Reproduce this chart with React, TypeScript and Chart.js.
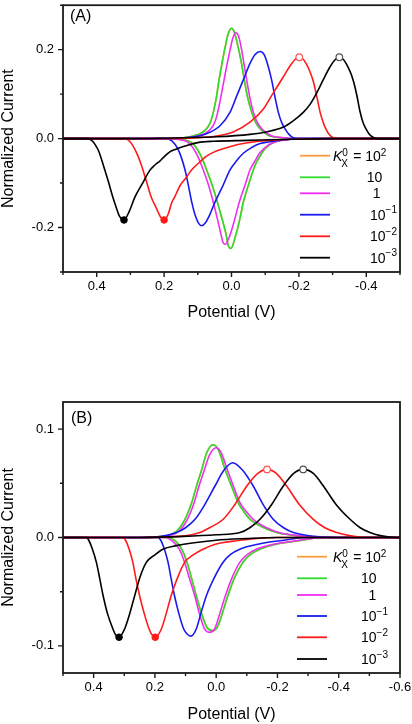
import React, { useEffect, useRef } from "react";
import { Chart, registerables } from "chart.js";

Chart.register(...registerables);

type Pair = [number, number];

// ---------------- shared series info ----------------
const seriesColors = ["#FF9B3D", "#2EDC2E", "#F02EF0", "#1A1AF0", "#FF1A1A", "#000000"];
const legendBase = ["10", "10", "1", "10", "10", "10"];
const legendExp = ["2", "", "", "\u22121", "\u22122", "\u22123"];

// ---------------- Panel A data (potential V, normalized current) ----------------
const greenA_fwd: Pair[] = [[0.5,0],[0.2,0],[0.143,0.002],[0.113,0.006],[0.09,0.012],[0.074,0.022],[0.062,0.038],[0.054,0.059],[0.045,0.092],[0.037,0.132],[0.028,0.17],[0.019,0.205],[0.01,0.235],[0.0,0.248],[-0.008,0.24],[-0.02,0.205],[-0.03,0.168],[-0.038,0.132],[-0.048,0.092],[-0.06,0.059],[-0.072,0.036],[-0.085,0.022],[-0.1,0.012],[-0.114,0.006],[-0.153,0.002],[-0.2,0],[-0.5,0]];
const greenA_rev: Pair[] = [[-0.5,0],[-0.2,0],[-0.15,-0.003],[-0.119,-0.011],[-0.1,-0.022],[-0.09,-0.033],[-0.075,-0.052],[-0.065,-0.07],[-0.05,-0.105],[-0.035,-0.143],[-0.025,-0.18],[-0.013,-0.216],[0.002,-0.247],[0.01,-0.24],[0.016,-0.216],[0.03,-0.175],[0.042,-0.143],[0.055,-0.11],[0.074,-0.07],[0.09,-0.04],[0.105,-0.02],[0.12,-0.008],[0.14,-0.003],[0.16,-0.001],[0.2,0],[0.5,0]];
const magentaA_fwd: Pair[] = [[0.5,0],[0.2,0],[0.13,0.002],[0.1,0.006],[0.077,0.012],[0.061,0.022],[0.049,0.038],[0.041,0.059],[0.032,0.092],[0.022,0.132],[0.013,0.168],[0.004,0.2],[-0.004,0.226],[-0.013,0.238],[-0.022,0.228],[-0.03,0.2],[-0.037,0.168],[-0.045,0.132],[-0.055,0.09],[-0.065,0.059],[-0.077,0.036],[-0.09,0.022],[-0.105,0.012],[-0.12,0.006],[-0.16,0.002],[-0.2,0],[-0.5,0]];
const magentaA_rev: Pair[] = [[-0.5,0],[-0.2,0],[-0.16,-0.003],[-0.12,-0.01],[-0.1,-0.02],[-0.083,-0.033],[-0.07,-0.05],[-0.055,-0.07],[-0.04,-0.105],[-0.023,-0.143],[-0.01,-0.18],[0.004,-0.216],[0.019,-0.238],[0.026,-0.232],[0.031,-0.216],[0.042,-0.18],[0.054,-0.143],[0.068,-0.105],[0.084,-0.07],[0.1,-0.04],[0.115,-0.02],[0.13,-0.008],[0.15,-0.003],[0.175,0],[0.5,0]];
const blueA_fwd: Pair[] = [[0.5,0],[0.2,0],[0.12,0.003],[0.074,0.011],[0.034,0.029],[0.0045,0.059],[-0.015,0.095],[-0.035,0.132],[-0.055,0.169],[-0.07,0.189],[-0.085,0.196],[-0.097,0.189],[-0.108,0.165],[-0.119,0.132],[-0.13,0.09],[-0.139,0.059],[-0.149,0.036],[-0.159,0.022],[-0.17,0.01],[-0.183,0.002],[-0.2,0],[-0.5,0]];
const blueA_rev: Pair[] = [[-0.5,0],[-0.2,0],[-0.15,-0.003],[-0.113,-0.007],[-0.085,-0.011],[-0.06,-0.02],[-0.035,-0.033],[-0.015,-0.05],[0.004,-0.07],[0.025,-0.105],[0.049,-0.143],[0.065,-0.172],[0.078,-0.19],[0.088,-0.196],[0.098,-0.19],[0.108,-0.172],[0.118,-0.143],[0.128,-0.105],[0.138,-0.07],[0.15,-0.04],[0.16,-0.022],[0.177,-0.005],[0.195,0],[0.5,0]];
const redA_fwd: Pair[] = [[0.5,0],[0.2,0],[0.1,0.002],[0.044,0.006],[-0.005,0.015],[-0.055,0.037],[-0.094,0.066],[-0.124,0.103],[-0.154,0.139],[-0.175,0.165],[-0.19,0.179],[-0.201,0.183],[-0.212,0.179],[-0.222,0.168],[-0.232,0.152],[-0.243,0.128],[-0.253,0.095],[-0.263,0.059],[-0.272,0.037],[-0.28,0.022],[-0.29,0.009],[-0.302,0.002],[-0.32,0],[-0.5,0]];
const redA_rev: Pair[] = [[-0.5,0],[-0.3,0],[-0.2,-0.001],[-0.1,-0.005],[-0.035,-0.011],[0.0,-0.017],[0.03,-0.024],[0.054,-0.031],[0.075,-0.04],[0.093,-0.052],[0.118,-0.07],[0.135,-0.088],[0.153,-0.106],[0.169,-0.132],[0.177,-0.143],[0.188,-0.17],[0.2,-0.183],[0.21,-0.177],[0.222,-0.158],[0.238,-0.132],[0.253,-0.095],[0.268,-0.058],[0.283,-0.03],[0.295,-0.013],[0.307,-0.003],[0.32,0],[0.5,0]];
const blackA_fwd: Pair[] = [[0.5,0],[0.3,0],[0.143,0.002],[0.044,0.004],[-0.055,0.0095],[-0.104,0.015],[-0.154,0.026],[-0.183,0.04],[-0.213,0.059],[-0.233,0.077],[-0.253,0.103],[-0.272,0.132],[-0.292,0.161],[-0.308,0.178],[-0.32,0.183],[-0.332,0.178],[-0.345,0.162],[-0.355,0.145],[-0.363,0.126],[-0.372,0.097],[-0.381,0.062],[-0.39,0.037],[-0.399,0.022],[-0.41,0.009],[-0.426,0.001],[-0.44,0],[-0.5,0]];
const blackA_rev: Pair[] = [[-0.5,0],[-0.3,0],[-0.15,-0.002],[-0.05,-0.004],[0.054,-0.006],[0.1,-0.009],[0.143,-0.018],[0.165,-0.024],[0.183,-0.03],[0.2,-0.041],[0.212,-0.05],[0.228,-0.06],[0.243,-0.072],[0.265,-0.102],[0.287,-0.132],[0.303,-0.163],[0.319,-0.183],[0.332,-0.175],[0.342,-0.155],[0.352,-0.132],[0.366,-0.095],[0.381,-0.058],[0.393,-0.03],[0.405,-0.013],[0.415,-0.004],[0.426,0],[0.5,0]];
// K = 10^2 coincides with K = 10 (hidden underneath)
const orangeA_fwd: Pair[] = greenA_fwd;
const orangeA_rev: Pair[] = greenA_rev;

const xRangeA: Pair = [-0.5, 0.5];
const yRangeA: Pair = [-0.3, 0.3];
const xTicksA = [0.4, 0.2, 0.0, -0.2, -0.4];
const xMinorTicksA = [0.5, 0.3, 0.1, -0.1, -0.3, -0.5];
const yTicksA = [0.2, 0.0, -0.2];
const yMinorTicksA = [0.3, 0.1, -0.1, -0.3];
const openPeaksA: Pair[] = [[-0.201, 0.183], [-0.32, 0.183]];
const filledPeaksA: Pair[] = [[0.2, -0.183], [0.319, -0.183]];

// ---------------- Panel B data ----------------
const greenB_fwd: Pair[] = [[0.5,0],[0.25,0],[0.173,0.001],[0.129,0.006],[0.102,0.0168],[0.08,0.032],[0.064,0.0475],[0.047,0.0628],[0.031,0.078],[0.011,0.0855],[-0.007,0.081],[-0.029,0.0628],[-0.05,0.0475],[-0.072,0.032],[-0.09,0.024],[-0.11,0.0168],[-0.154,0.0092],[-0.197,0.0046],[-0.273,0.0013],[-0.35,0],[-0.6,0]];
const greenB_rev: Pair[] = [[-0.6,0],[-0.35,0],[-0.27,-0.003],[-0.2,-0.006],[-0.142,-0.0108],[-0.11,-0.016],[-0.087,-0.023],[-0.06,-0.037],[-0.038,-0.0537],[-0.02,-0.07],[-0.005,-0.082],[0.01,-0.086],[0.03,-0.083],[0.048,-0.07],[0.065,-0.0537],[0.08,-0.038],[0.095,-0.023],[0.112,-0.011],[0.13,-0.004],[0.16,0],[0.5,0]];
const magentaB_fwd: Pair[] = [[0.5,0],[0.25,0],[0.165,0.001],[0.121,0.006],[0.094,0.0168],[0.072,0.032],[0.056,0.0475],[0.039,0.062],[0.022,0.076],[0.0,0.0828],[-0.015,0.079],[-0.036,0.0628],[-0.056,0.0475],[-0.078,0.032],[-0.098,0.024],[-0.121,0.0168],[-0.163,0.0092],[-0.205,0.0046],[-0.28,0.0013],[-0.36,0],[-0.6,0]];
const magentaB_rev: Pair[] = [[-0.6,0],[-0.35,0],[-0.261,-0.003],[-0.19,-0.006],[-0.131,-0.0108],[-0.1,-0.016],[-0.077,-0.023],[-0.052,-0.037],[-0.03,-0.0537],[-0.012,-0.07],[0.005,-0.0844],[0.023,-0.0874],[0.038,-0.0844],[0.055,-0.07],[0.07,-0.0537],[0.087,-0.038],[0.103,-0.023],[0.12,-0.011],[0.14,-0.004],[0.17,0],[0.5,0]];
const blueB_fwd: Pair[] = [[0.5,0],[0.25,0],[0.18,0.001],[0.129,0.0046],[0.1,0.009],[0.069,0.0168],[0.04,0.029],[0.004,0.0475],[-0.025,0.062],[-0.054,0.069],[-0.085,0.0625],[-0.121,0.0475],[-0.15,0.032],[-0.186,0.0168],[-0.22,0.009],[-0.252,0.0046],[-0.32,0.001],[-0.4,0],[-0.6,0]];
const blueB_rev: Pair[] = [[-0.6,0],[-0.3,0],[-0.207,-0.003],[-0.14,-0.006],[-0.077,-0.0108],[-0.045,-0.016],[-0.022,-0.023],[0.006,-0.037],[0.032,-0.0537],[0.05,-0.07],[0.065,-0.0844],[0.083,-0.091],[0.095,-0.089],[0.106,-0.0844],[0.122,-0.07],[0.136,-0.0537],[0.147,-0.038],[0.157,-0.023],[0.17,-0.01],[0.18,-0.003],[0.19,0],[0.5,0]];
const redB_fwd: Pair[] = [[0.5,0],[0.25,0],[0.12,0.001],[0.053,0.0046],[0.015,0.01],[-0.023,0.0168],[-0.06,0.03],[-0.1,0.0475],[-0.135,0.059],[-0.166,0.0628],[-0.197,0.059],[-0.23,0.0475],[-0.27,0.031],[-0.317,0.0168],[-0.355,0.009],[-0.393,0.0046],[-0.44,0.0015],[-0.491,0],[-0.6,0]];
const redB_rev: Pair[] = [[-0.6,0],[-0.2,0],[-0.066,-0.003],[0.0,-0.006],[0.043,-0.0108],[0.075,-0.016],[0.103,-0.023],[0.126,-0.037],[0.147,-0.0537],[0.163,-0.07],[0.179,-0.0844],[0.199,-0.092],[0.209,-0.09],[0.219,-0.0844],[0.235,-0.07],[0.25,-0.0537],[0.262,-0.038],[0.272,-0.023],[0.285,-0.01],[0.295,-0.003],[0.304,0],[0.5,0]];
const blackB_fwd: Pair[] = [[0.5,0],[0.25,0],[0.107,0.001],[0.0,0.0025],[-0.078,0.0046],[-0.11,0.009],[-0.143,0.0168],[-0.18,0.03],[-0.219,0.0475],[-0.252,0.059],[-0.284,0.0628],[-0.318,0.059],[-0.35,0.0475],[-0.39,0.031],[-0.437,0.0168],[-0.47,0.009],[-0.502,0.0046],[-0.54,0.0015],[-0.589,0],[-0.6,0]];
const blackB_rev: Pair[] = [[-0.6,0],[-0.2,0],[-0.098,-0.001],[0.0,-0.0025],[0.065,-0.0046],[0.13,-0.0075],[0.174,-0.0108],[0.2,-0.016],[0.228,-0.023],[0.248,-0.036],[0.266,-0.0537],[0.283,-0.071],[0.299,-0.0844],[0.317,-0.092],[0.328,-0.09],[0.337,-0.0844],[0.355,-0.07],[0.369,-0.0537],[0.38,-0.038],[0.391,-0.023],[0.405,-0.01],[0.415,-0.003],[0.424,0],[0.5,0]];
const orangeB_fwd: Pair[] = greenB_fwd;
const orangeB_rev: Pair[] = greenB_rev;

const xRangeB: Pair = [-0.6, 0.5];
const yRangeB: Pair = [-0.125, 0.125];
const xTicksB = [0.4, 0.2, 0.0, -0.2, -0.4, -0.6];
const xMinorTicksB = [0.5, 0.3, 0.1, -0.1, -0.3, -0.5];
const yTicksB = [0.1, 0.0, -0.1];
const yMinorTicksB = [0.05, -0.05];
const openPeaksB: Pair[] = [[-0.166, 0.0628], [-0.284, 0.0628]];
const filledPeaksB: Pair[] = [[0.199, -0.092], [0.317, -0.092]];

const openPeakColors = ["#FF5555", "#555555"];
const filledPeakColors = ["#FF1A1A", "#000000"];

// ---------------- layout ----------------
const FONT = '"Liberation Sans", Arial, Helvetica, sans-serif';

interface PanelCfg {
  fwd: Pair[][];
  rev: Pair[][];
  xRange: Pair;
  yRange: Pair;
  xTicks: number[];
  xMinor: number[];
  yTicks: number[];
  yMinor: number[];
  openPeaks: Pair[];
  filledPeaks: Pair[];
  tag: string;
  canvasTop: number;
  canvasHeight: number;
  padTop: number;
  xAxisHeight: number;
  xTitlePad: number;
  tagX: number;
  tagY: number;
  legendX1: number;
  legendX2: number;
  legendRows: number[];
  legendKX: number;
  legendTextX: number[];
}

const panelA: PanelCfg = {
  fwd: [orangeA_fwd, greenA_fwd, magentaA_fwd, blueA_fwd, redA_fwd, blackA_fwd],
  rev: [orangeA_rev, greenA_rev, magentaA_rev, blueA_rev, redA_rev, blackA_rev],
  xRange: xRangeA, yRange: yRangeA,
  xTicks: xTicksA, xMinor: xMinorTicksA, yTicks: yTicksA, yMinor: yMinorTicksA,
  openPeaks: openPeaksA, filledPeaks: filledPeaksA,
  tag: "(A)",
  canvasTop: 0, canvasHeight: 330, padTop: 1, xAxisHeight: 58, xTitlePad: 8,
  tagX: 70, tagY: 17,
  legendX1: 300, legendX2: 330,
  legendRows: [155.7, 177.3, 193.3, 214.7, 236.3, 257.7],
  legendKX: 333,
  legendTextX: [0, 366.7, 372.8, 370, 370, 370],
};

const panelB: PanelCfg = {
  fwd: [orangeB_fwd, greenB_fwd, magentaB_fwd, blueB_fwd, redB_fwd, blackB_fwd],
  rev: [orangeB_rev, greenB_rev, magentaB_rev, blueB_rev, redB_rev, blackB_rev],
  xRange: xRangeB, yRange: yRangeB,
  xTicks: xTicksB, xMinor: xMinorTicksB, yTicks: yTicksB, yMinor: yMinorTicksB,
  openPeaks: openPeaksB, filledPeaks: filledPeaksB,
  tag: "(B)",
  canvasTop: 350, canvasHeight: 374, padTop: 52, xAxisHeight: 51, xTitlePad: 0,
  tagX: 71, tagY: 69,
  legendX1: 297, legendX2: 327,
  legendRows: [206.7, 228.3, 245, 266, 287.3, 309],
  legendKX: 333,
  legendTextX: [0, 361, 368.5, 361, 361, 361],
};

const toXY = (arr: Pair[]) => arr.map(([x, y]) => ({ x, y }));

function makeDecor(cfg: PanelCfg) {
  return {
    id: "decor",
    afterDatasetsDraw(chart: any) {
      const ctx: CanvasRenderingContext2D = chart.ctx;
      const { left, right, top, bottom } = chart.chartArea;
      const xs = chart.scales.x;
      const ys = chart.scales.y;
      ctx.save();
      ctx.strokeStyle = "#1a1a1a";
      ctx.lineWidth = 1.8;
      ctx.strokeRect(left, top, right - left, bottom - top);
      ctx.lineWidth = 1.4;
      ctx.beginPath();
      cfg.xTicks.forEach((v) => { const p = xs.getPixelForValue(v); ctx.moveTo(p, bottom); ctx.lineTo(p, bottom + 5); });
      cfg.xMinor.forEach((v) => { const p = xs.getPixelForValue(v); ctx.moveTo(p, bottom); ctx.lineTo(p, bottom + 3); });
      cfg.yTicks.forEach((v) => { const p = ys.getPixelForValue(v); ctx.moveTo(left, p); ctx.lineTo(left - 5, p); });
      cfg.yMinor.forEach((v) => { const p = ys.getPixelForValue(v); ctx.moveTo(left, p); ctx.lineTo(left - 3, p); });
      ctx.stroke();

      // panel tag
      ctx.fillStyle = "#000";
      ctx.font = `16px ${FONT}`;
      ctx.textBaseline = "middle";
      ctx.textAlign = "left";
      ctx.fillText(cfg.tag, cfg.tagX, cfg.tagY);

      // legend
      ctx.textBaseline = "alphabetic";
      cfg.legendRows.forEach((y, i) => {
        ctx.strokeStyle = seriesColors[i];
        ctx.lineWidth = 1.8;
        ctx.beginPath();
        ctx.moveTo(cfg.legendX1, y);
        ctx.lineTo(cfg.legendX2, y);
        ctx.stroke();
        ctx.fillStyle = "#000";
        if (i === 0) {
          let x = cfg.legendKX;
          ctx.font = `italic 14px ${FONT}`;
          ctx.fillText("K", x, y + 5);
          const kw = ctx.measureText("K").width;
          ctx.font = `10px ${FONT}`;
          ctx.fillText("X", x + kw - 1, y + 11);
          ctx.fillText("0", x + kw, y + 0.5);
          x += kw + 7;
          ctx.font = `14px ${FONT}`;
          const base = " = " + legendBase[0];
          ctx.fillText(base, x, y + 5);
          x += ctx.measureText(base).width;
          ctx.font = `10px ${FONT}`;
          ctx.fillText(legendExp[0], x, y + 0.5);
        } else {
          const x = cfg.legendTextX[i];
          ctx.font = `14px ${FONT}`;
          ctx.fillText(legendBase[i], x, y + 5);
          if (legendExp[i]) {
            const w = ctx.measureText(legendBase[i]).width;
            ctx.font = `10px ${FONT}`;
            ctx.fillText(legendExp[i], x + w, y - 1.5);
          }
        }
      });
      ctx.restore();
    },
  };
}

function Panel({ cfg }: { cfg: PanelCfg }) {
  const ref = useRef<HTMLCanvasElement | null>(null);
  useEffect(() => {
    if (!ref.current) return;
    const datasets: any[] = [];
    cfg.fwd.forEach((arr, i) => {
      [arr, cfg.rev[i]].forEach((branch) => {
        datasets.push({
          data: toXY(branch),
          borderColor: seriesColors[i],
          backgroundColor: seriesColors[i],
          borderWidth: 1.6,
          pointRadius: 0,
          showLine: true,
          fill: false,
          cubicInterpolationMode: "monotone",
          order: 10 - i,
        });
      });
    });
    datasets.push({
      data: toXY(cfg.openPeaks),
      pointRadius: 3.3,
      pointBackgroundColor: "#ffffff",
      pointBorderColor: openPeakColors,
      pointBorderWidth: 1.2,
      showLine: false,
      order: 0,
    });
    datasets.push({
      data: toXY(cfg.filledPeaks),
      pointRadius: 3.3,
      pointBackgroundColor: filledPeakColors,
      pointBorderColor: filledPeakColors,
      pointBorderWidth: 1,
      showLine: false,
      order: 0,
    });

    const tickFont = { family: FONT, size: 13 };
    const titleFont = { family: FONT, size: 16 };

    const chart = new Chart(ref.current, {
      type: "scatter",
      data: { datasets },
      options: {
        animation: false,
        responsive: false,
        events: [],
        layout: { padding: { top: cfg.padTop, right: 12, bottom: 0, left: 0 } },
        plugins: { legend: { display: false }, tooltip: { enabled: false } },
        scales: {
          x: {
            type: "linear",
            min: cfg.xRange[0],
            max: cfg.xRange[1],
            reverse: true,
            grid: { display: false, drawTicks: false },
            border: { display: false },
            afterBuildTicks: (s: any) => { s.ticks = cfg.xTicks.map((value) => ({ value })); },
            afterFit: (s: any) => {
              s.height = cfg.xAxisHeight;
              s.paddingLeft = 0; s.paddingRight = 0; s.paddingTop = 0; s.paddingBottom = 0;
            },
            ticks: {
              autoSkip: false, maxRotation: 0, minRotation: 0, padding: 7,
              color: "#000", font: tickFont,
              callback: (v: any) => Number(v).toFixed(1),
            },
            title: {
              display: true, text: "Potential (V)", color: "#000", font: titleFont,
              padding: { top: 0, bottom: cfg.xTitlePad },
            },
          },
          y: {
            type: "linear",
            min: cfg.yRange[0],
            max: cfg.yRange[1],
            grid: { display: false, drawTicks: false },
            border: { display: false },
            afterBuildTicks: (s: any) => { s.ticks = cfg.yTicks.map((value) => ({ value })); },
            afterFit: (s: any) => {
              s.width = 63;
              s.paddingLeft = 0; s.paddingRight = 0; s.paddingTop = 0; s.paddingBottom = 0;
            },
            ticks: {
              padding: 9, color: "#000", font: tickFont,
              callback: (v: any) => Number(v).toFixed(1),
            },
            title: {
              display: true, text: "Normalized Current", color: "#000", font: titleFont,
              padding: { top: -1, bottom: 0 },
            },
          },
        },
      } as any,
      plugins: [makeDecor(cfg)],
    });
    return () => chart.destroy();
  }, [cfg]);

  return (
    <canvas
      ref={ref}
      width={412}
      height={cfg.canvasHeight}
      style={{ position: "absolute", left: 0, top: cfg.canvasTop, width: 412, height: cfg.canvasHeight, display: "block" }}
    />
  );
}

export default function App() {
  return (
    <div style={{ position: "absolute", left: 0, top: 0, width: 412, height: 724, background: "#ffffff", overflow: "hidden" }}>
      <Panel cfg={panelA} />
      <Panel cfg={panelB} />
    </div>
  );
}
